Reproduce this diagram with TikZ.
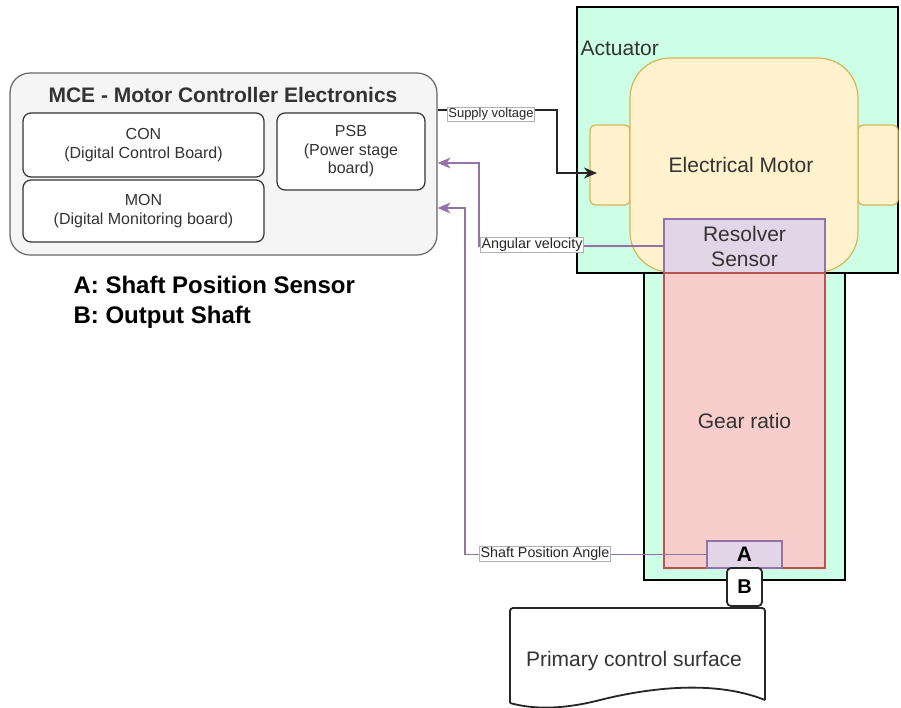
\documentclass[tikz,border=0pt]{standalone}
\usepackage{fontspec}
\setmainfont{Liberation Sans}
\usetikzlibrary{arrows.meta}
\definecolor{grn}{HTML}{CCFFE6}
\definecolor{yel}{HTML}{FFF2CC}
\definecolor{yelb}{HTML}{D6B656}
\definecolor{pur}{HTML}{E1D5E7}
\definecolor{purb}{HTML}{9673A6}
\definecolor{red1}{HTML}{F8CECC}
\definecolor{redb}{HTML}{B85450}
\definecolor{txt}{HTML}{333333}
\definecolor{mceg}{HTML}{F5F5F5}
\definecolor{mceb}{HTML}{666666}
\tikzset{
  box/.style={inner sep=0pt, align=center, text=txt, line width=1.2pt},
  fsix/.style={font=\fontsize{16}{18.5}\selectfont},
  ftw/.style={font=\fontsize{21}{25}\selectfont},
  lbl/.style={draw=gray!60, fill=white, inner sep=1pt, text=black!85, line width=0.6pt},
  board/.style={box, draw=black!80, fill=white, rounded corners=8pt, fsix},
  sig/.style={draw=purb, line width=1.4pt, -{Stealth[length=13pt,width=11pt,inset=4pt]}},
}
\begin{document}
\begin{tikzpicture}[x=1pt,y=-1pt]
\useasboundingbox (0,0) rectangle (901,707);

% MCE
\node[box, draw=mceb, fill=mceg, rounded corners=20pt, minimum width=427pt, minimum height=182pt] (mce) at (223.5,164) {};
\node[box, font=\bfseries\fontsize{21}{24}\selectfont] (mcet) at (223,95) {MCE - Motor Controller Electronics};
\node[board, minimum width=241pt, minimum height=64pt] (con) at (143.5,145) {CON\\(Digital Control Board)};
\node[board, minimum width=241pt, minimum height=62pt] (mon) at (143.5,211) {MON\\(Digital Monitoring board)};
\node[board, minimum width=148pt, minimum height=77pt] (psb) at (351,151.5) {PSB\\(Power stage\\board)};

% legend
\node[box, anchor=west, text=black, align=left, font=\bfseries\fontsize{24}{30}\selectfont] (legend) at (73,302) {A: Shaft Position Sensor\\B: Output Shaft};

% Actuator
\node[box, draw=black, fill=grn, minimum width=321pt, minimum height=266pt] (act) at (737.5,140) {};
\node[box, draw=black, fill=grn, minimum width=201pt, minimum height=307pt] (low) at (744.5,426.5) {};
\node[box, anchor=west, ftw] (actt) at (580,48) {Actuator};
\node[box, draw=yelb, fill=yel, rounded corners=5pt, minimum width=40pt, minimum height=80pt] (tabl) at (610,165) {};
\node[box, draw=yelb, fill=yel, rounded corners=5pt, minimum width=40pt, minimum height=80pt] (tabr) at (878,165) {};
\node[box, draw=yelb, fill=yel, rounded corners=40pt, minimum width=228pt, minimum height=214pt] (motor) at (744,165) {};
\node[box, ftw] (motort) at (741,165) {Electrical Motor};
\node[box, draw=purb, fill=pur, minimum width=161pt, minimum height=54pt, ftw] (res) at (744.5,246) {Resolver\\Sensor};
\node[box, draw=redb, fill=red1, minimum width=161pt, minimum height=295pt, ftw] (gear) at (744.5,420.5) {Gear ratio};
\node[box, draw=purb, fill=pur, minimum width=75pt, minimum height=27pt, text=black, font=\bfseries\fontsize{21}{24}\selectfont] (A) at (744.5,554.5) {A};
\node[box, draw=black!85, fill=white, rounded corners=4pt, minimum width=35pt, minimum height=38pt, text=black, font=\bfseries\fontsize{20}{24}\selectfont, line width=1.8pt] (B) at (744.5,587) {B};

% Primary control surface (document shape)
\draw[black!85, fill=white, line width=1.8pt, rounded corners=3pt] (510,703) -- (510,608) -- (765,608) -- (765,700);
\draw[black!85, line width=1.8pt] (765,700) .. controls (710,678) and (640,690) .. (600,700) .. controls (565,709) and (535,710) .. (510,703);
\node[box, ftw] (pcs) at (634,661) {Primary control surface};

% connectors
\coordinate (svb) at (557,110);
\coordinate (svend) at (597,173);
\draw[black!85, line width=1.4pt, -{Stealth[length=13pt,width=11pt,inset=4pt]}] (svb -| mce.east) -- (svb) |- (svend);
\node[lbl, font=\fontsize{13}{15}\selectfont] (svl) at (491,114) {Supply voltage};

\coordinate (avb) at (479,163);
\draw[sig] (res.west) -| (avb) -- (avb -| mce.east);
\node[lbl, font=\fontsize{14.3}{16}\selectfont] (avl) at (532,245) {Angular velocity};

\coordinate (spb) at (465,208);
\draw[sig] (A.west) -| (spb) -- (spb -| mce.east);
\node[lbl, font=\fontsize{14.3}{16}\selectfont] (spl) at (545,554) {Shaft Position Angle};
\end{tikzpicture}
\end{document}
